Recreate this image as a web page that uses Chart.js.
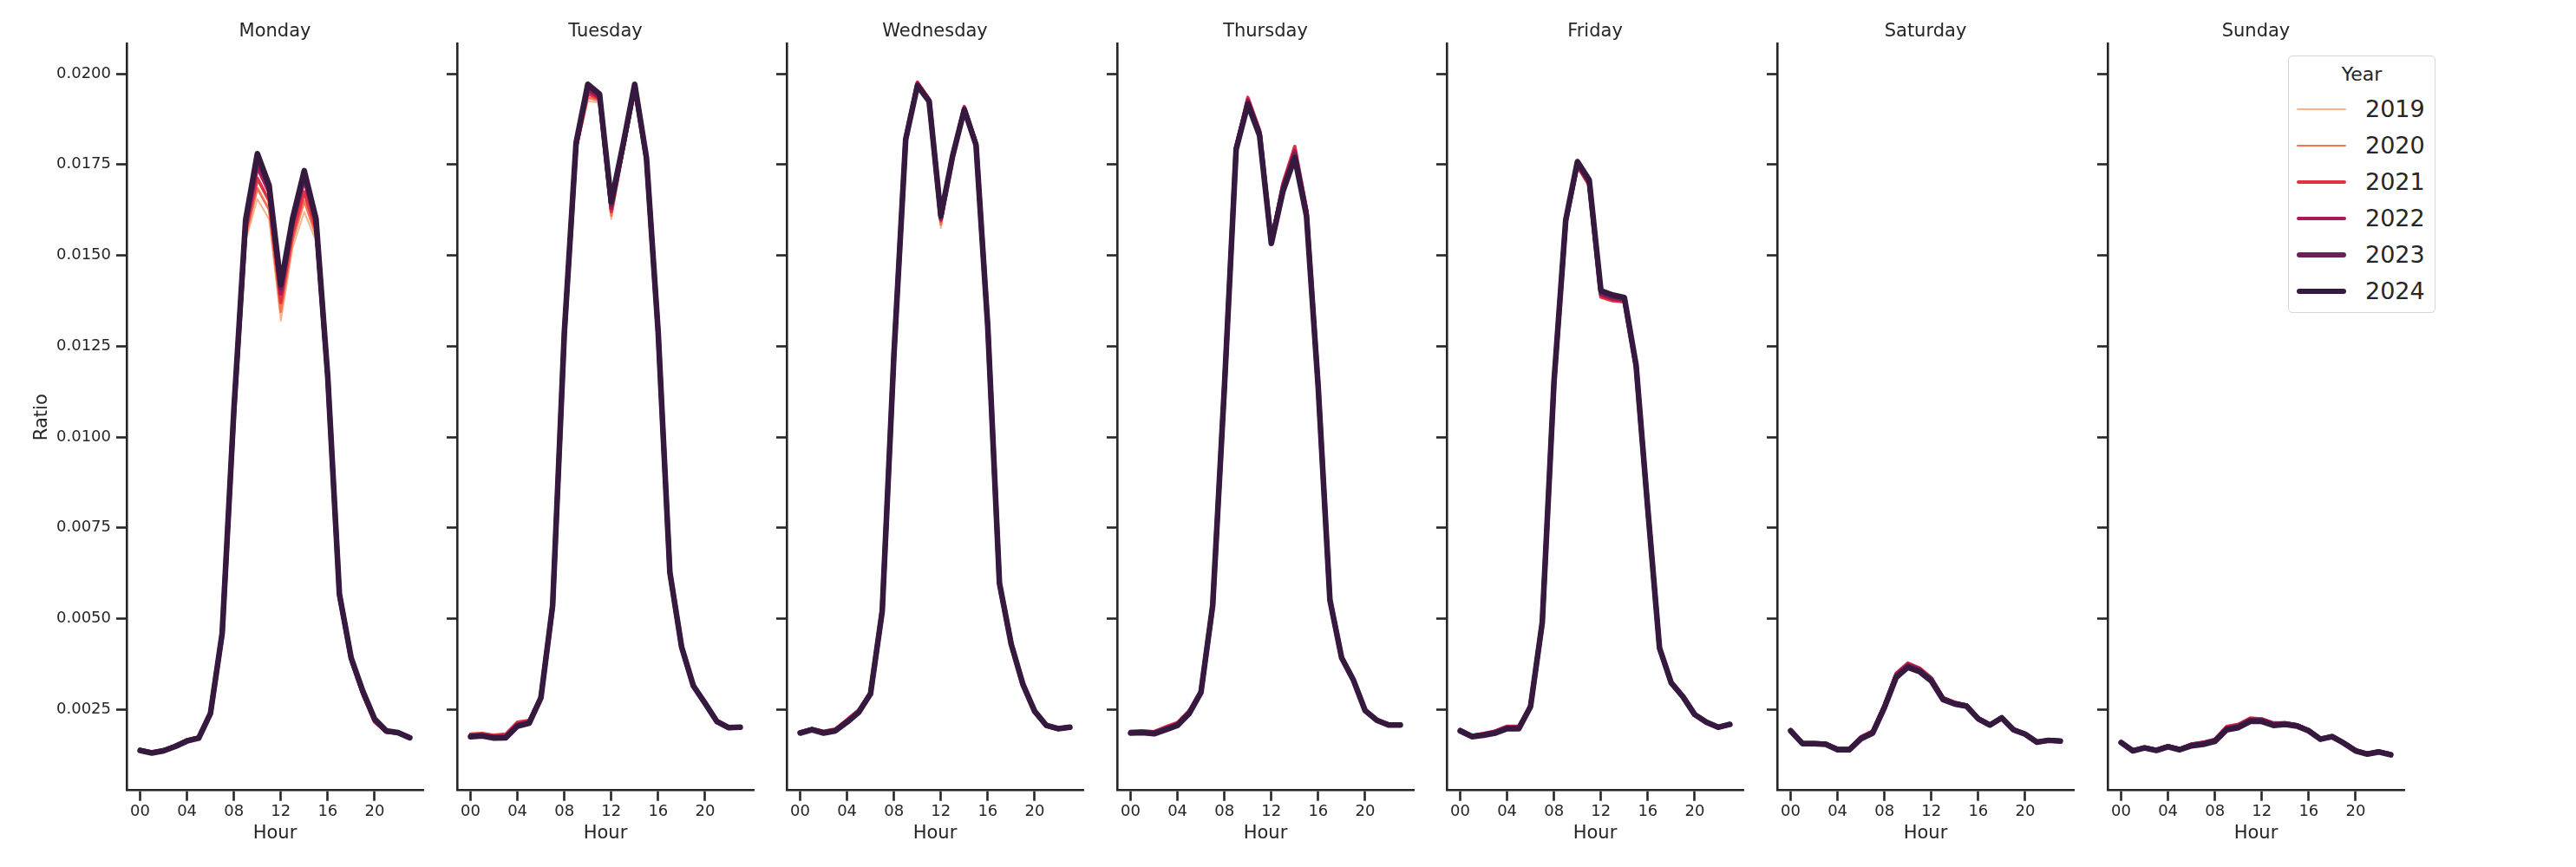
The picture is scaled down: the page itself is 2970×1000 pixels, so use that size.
<!DOCTYPE html>
<html>
<head>
<meta charset="utf-8">
<title>Ratio by hour and weekday</title>
<script src="https://cdn.jsdelivr.net/npm/chart.js@4.4.1/dist/chart.umd.min.js"></script>
<style>
    html, body { margin: 0; padding: 0; background: #fff; }
    body { width: 2970px; height: 1000px; position: relative; overflow: hidden; font-family: "DejaVu Sans", sans-serif; color: #262626; }
    canvas { position: absolute; top: 0; }
    #legend { position: absolute; left: 2638px; top: 64px; width: 168px; height: 295px; border: 1.5px solid #d6d6d6; border-radius: 5px; background: rgba(255,255,255,0.8); }
    #legend .title { position: absolute; left: 0; right: 0; top: 8px; text-align: center; font-size: 22px; line-height: 26px; }
    #legend .row { position: absolute; left: 0; width: 168px; height: 34px; }
    #legend .swatch { position: absolute; left: 9px; width: 57px; border-radius: 4px; }
    #legend .label { position: absolute; left: 88px; top: 0; font-size: 27px; line-height: 34px; }
</style>
</head>
<body>
<div id="legend"></div>
<script>
// 数据：每小时占比
const days = ['Monday', 'Tuesday', 'Wednesday', 'Thursday', 'Friday', 'Saturday', 'Sunday'];
const years = ['2019', '2020', '2021', '2022', '2023', '2024'];
const hours = [0, 1, 2, 3, 4, 5, 6, 7, 8, 9, 10, 11, 12, 13, 14, 15, 16, 17, 18, 19, 20, 21, 22, 23];
const xTicks = [0, 4, 8, 12, 16, 20];
const xTickLabels = ['00', '04', '08', '12', '16', '20'];
const yTicks = [0.0025, 0.0050, 0.0075, 0.0100, 0.0125, 0.0150, 0.0175, 0.0200];

const yearColors = ['#f6b48f', '#f37651', '#e13342', '#ad1759', '#701f57', '#35193e'];
const yearWidths = [2, 2.9, 3.8, 4.7, 5.6, 6.5];

// Monday
const mon2019 = [0.00141,0.00134,0.00139,0.00152,0.00168,0.00176,0.00244,0.00452,0.01045,0.01540,0.01655,0.01600,0.01320,0.01520,0.01620,0.01540,0.01140,0.00565,0.00389,0.00296,0.00221,0.00190,0.00187,0.00175];
const mon2020 = [0.00140,0.00133,0.00139,0.00151,0.00167,0.00175,0.00243,0.00454,0.01052,0.01552,0.01685,0.01625,0.01345,0.01540,0.01650,0.01555,0.01145,0.00562,0.00386,0.00293,0.00218,0.00189,0.00186,0.00175];
const mon2021 = [0.00139,0.00132,0.00138,0.00150,0.00166,0.00174,0.00242,0.00455,0.01058,0.01565,0.01712,0.01650,0.01370,0.01560,0.01675,0.01570,0.01152,0.00560,0.00384,0.00290,0.00215,0.00187,0.00185,0.00174];
const mon2022 = [0.00139,0.00132,0.00137,0.00150,0.00165,0.00173,0.00241,0.00456,0.01065,0.01580,0.01745,0.01675,0.01395,0.01585,0.01710,0.01588,0.01160,0.00563,0.00388,0.00295,0.00219,0.00189,0.00185,0.00173];
const mon2023 = [0.00138,0.00131,0.00137,0.00149,0.00164,0.00172,0.00240,0.00458,0.01070,0.01590,0.01765,0.01685,0.01410,0.01595,0.01722,0.01595,0.01165,0.00566,0.00390,0.00298,0.00222,0.00190,0.00186,0.00173];
const mon2024 = [0.00137,0.00130,0.00136,0.00148,0.00163,0.00171,0.00239,0.00460,0.01076,0.01598,0.01780,0.01693,0.01419,0.01601,0.01733,0.01601,0.01168,0.00567,0.00392,0.00300,0.00224,0.00191,0.00186,0.00172];

// Tuesday
const tue2019 = [0.00179,0.00181,0.00176,0.00179,0.00210,0.00217,0.00283,0.00534,0.01278,0.01785,0.01925,0.01920,0.01600,0.01780,0.01948,0.01752,0.01282,0.00627,0.00422,0.00315,0.00267,0.00217,0.00199,0.00201];
const tue2020 = [0.00180,0.00182,0.00177,0.00180,0.00212,0.00218,0.00284,0.00533,0.01280,0.01790,0.01935,0.01925,0.01610,0.01785,0.01952,0.01755,0.01283,0.00626,0.00421,0.00314,0.00266,0.00216,0.00198,0.00200];
const tue2021 = [0.00182,0.00184,0.00179,0.00182,0.00215,0.00220,0.00285,0.00532,0.01282,0.01795,0.01945,0.01930,0.01620,0.01790,0.01957,0.01758,0.01284,0.00625,0.00420,0.00313,0.00265,0.00215,0.00197,0.00199];
const tue2022 = [0.00178,0.00180,0.00175,0.00177,0.00209,0.00216,0.00284,0.00534,0.01285,0.01800,0.01955,0.01935,0.01630,0.01795,0.01962,0.01762,0.01286,0.00626,0.00421,0.00314,0.00266,0.00216,0.00199,0.00200];
const tue2023 = [0.00176,0.00178,0.00173,0.00174,0.00206,0.00214,0.00283,0.00535,0.01287,0.01806,0.01965,0.01940,0.01640,0.01800,0.01968,0.01766,0.01288,0.00627,0.00422,0.00315,0.00267,0.00217,0.00200,0.00201];
const tue2024 = [0.00175,0.00177,0.00171,0.00172,0.00204,0.00212,0.00282,0.00536,0.01289,0.01810,0.01971,0.01944,0.01647,0.01804,0.01971,0.01769,0.01289,0.00627,0.00422,0.00315,0.00267,0.00217,0.00200,0.00201];

// Wednesday
const wed2019 = [0.00186,0.00195,0.00188,0.00194,0.00218,0.00245,0.00294,0.00521,0.01224,0.01818,0.01972,0.01922,0.01575,0.01768,0.01903,0.01806,0.01305,0.00598,0.00431,0.00320,0.00246,0.00207,0.00198,0.00202];
const wed2020 = [0.00187,0.00196,0.00189,0.00195,0.00220,0.00247,0.00295,0.00520,0.01225,0.01820,0.01975,0.01927,0.01585,0.01772,0.01907,0.01809,0.01304,0.00597,0.00430,0.00319,0.00245,0.00206,0.00197,0.00201];
const wed2021 = [0.00188,0.00197,0.00190,0.00196,0.00222,0.00249,0.00296,0.00519,0.01226,0.01822,0.01977,0.01930,0.01595,0.01775,0.01910,0.01811,0.01303,0.00596,0.00429,0.00318,0.00244,0.00205,0.00196,0.00200];
const wed2022 = [0.00187,0.00196,0.00188,0.00194,0.00219,0.00246,0.00295,0.00520,0.01227,0.01821,0.01973,0.01928,0.01600,0.01774,0.01906,0.01808,0.01304,0.00596,0.00429,0.00318,0.00244,0.00205,0.00196,0.00200];
const wed2023 = [0.00186,0.00195,0.00186,0.00192,0.00217,0.00244,0.00294,0.00521,0.01228,0.01820,0.01970,0.01926,0.01605,0.01773,0.01903,0.01806,0.01305,0.00597,0.00430,0.00319,0.00245,0.00206,0.00197,0.00201];
const wed2024 = [0.00185,0.00194,0.00185,0.00191,0.00215,0.00242,0.00293,0.00521,0.01228,0.01819,0.01967,0.01924,0.01609,0.01773,0.01901,0.01804,0.01305,0.00597,0.00430,0.00319,0.00245,0.00206,0.00197,0.00201];

// Thursday
const thu2019 = [0.00188,0.00189,0.00187,0.00199,0.00211,0.00244,0.00298,0.00535,0.01133,0.01794,0.01925,0.01836,0.01532,0.01688,0.01785,0.01620,0.01138,0.00551,0.00392,0.00331,0.00247,0.00220,0.00208,0.00208];
const thu2020 = [0.00189,0.00190,0.00188,0.00200,0.00212,0.00245,0.00299,0.00534,0.01134,0.01797,0.01930,0.01840,0.01536,0.01694,0.01792,0.01625,0.01139,0.00550,0.00391,0.00330,0.00246,0.00221,0.00209,0.00209];
const thu2021 = [0.00190,0.00191,0.00189,0.00202,0.00214,0.00247,0.00300,0.00533,0.01135,0.01800,0.01935,0.01845,0.01540,0.01700,0.01800,0.01630,0.01140,0.00549,0.00390,0.00329,0.00245,0.00222,0.00210,0.00210];
const thu2022 = [0.00188,0.00189,0.00187,0.00199,0.00211,0.00244,0.00299,0.00534,0.01136,0.01798,0.01928,0.01840,0.01538,0.01692,0.01788,0.01622,0.01139,0.00550,0.00391,0.00330,0.00246,0.00221,0.00209,0.00209];
const thu2023 = [0.00186,0.00187,0.00185,0.00196,0.00208,0.00241,0.00298,0.00535,0.01137,0.01795,0.01922,0.01835,0.01535,0.01685,0.01778,0.01615,0.01138,0.00551,0.00392,0.00331,0.00247,0.00220,0.00208,0.00208];
const thu2024 = [0.00185,0.00186,0.00183,0.00194,0.00206,0.00239,0.00297,0.00536,0.01137,0.01792,0.01916,0.01830,0.01533,0.01677,0.01769,0.01609,0.01137,0.00551,0.00392,0.00331,0.00247,0.00220,0.00207,0.00207];

// Friday
const fri2019 = [0.00193,0.00177,0.00182,0.00189,0.00201,0.00201,0.00259,0.00489,0.01148,0.01598,0.01765,0.01700,0.01390,0.01383,0.01378,0.01196,0.00801,0.00419,0.00323,0.00285,0.00236,0.00215,0.00201,0.00209];
const fri2020 = [0.00194,0.00178,0.00183,0.00190,0.00202,0.00202,0.00260,0.00488,0.01146,0.01593,0.01752,0.01695,0.01388,0.01378,0.01374,0.01193,0.00800,0.00418,0.00322,0.00284,0.00235,0.00214,0.00200,0.00208];
const fri2021 = [0.00195,0.00179,0.00184,0.00191,0.00204,0.00204,0.00261,0.00487,0.01145,0.01590,0.01745,0.01693,0.01385,0.01375,0.01372,0.01192,0.00799,0.00418,0.00322,0.00284,0.00235,0.00214,0.00200,0.00208];
const fri2022 = [0.00193,0.00177,0.00182,0.00189,0.00201,0.00201,0.00260,0.00488,0.01148,0.01592,0.01750,0.01698,0.01392,0.01381,0.01376,0.01194,0.00800,0.00418,0.00322,0.00284,0.00235,0.00214,0.00200,0.00208];
const fri2023 = [0.00192,0.00176,0.00181,0.00187,0.00199,0.00199,0.00259,0.00489,0.01150,0.01595,0.01755,0.01703,0.01398,0.01386,0.01380,0.01196,0.00801,0.00419,0.00323,0.00285,0.00236,0.00215,0.00201,0.00209];
const fri2024 = [0.00191,0.00175,0.00179,0.00185,0.00197,0.00197,0.00258,0.00490,0.01152,0.01597,0.01758,0.01708,0.01403,0.01391,0.01384,0.01198,0.00802,0.00419,0.00323,0.00285,0.00236,0.00215,0.00201,0.00209];

// Saturday
const sat2019 = [0.00192,0.00157,0.00157,0.00155,0.00141,0.00141,0.00173,0.00189,0.00261,0.00347,0.00377,0.00363,0.00336,0.00282,0.00268,0.00261,0.00226,0.00208,0.00228,0.00195,0.00183,0.00161,0.00166,0.00164];
const sat2020 = [0.00192,0.00157,0.00157,0.00155,0.00141,0.00141,0.00174,0.00190,0.00262,0.00348,0.00376,0.00362,0.00335,0.00282,0.00269,0.00261,0.00226,0.00208,0.00228,0.00195,0.00183,0.00161,0.00166,0.00164];
const sat2021 = [0.00193,0.00158,0.00158,0.00156,0.00142,0.00142,0.00175,0.00191,0.00264,0.00350,0.00378,0.00364,0.00337,0.00283,0.00270,0.00262,0.00227,0.00208,0.00228,0.00195,0.00183,0.00161,0.00166,0.00164];
const sat2022 = [0.00193,0.00157,0.00157,0.00155,0.00141,0.00141,0.00173,0.00189,0.00261,0.00346,0.00374,0.00361,0.00334,0.00281,0.00268,0.00261,0.00226,0.00208,0.00228,0.00195,0.00183,0.00161,0.00166,0.00164];
const sat2023 = [0.00192,0.00157,0.00157,0.00155,0.00140,0.00140,0.00171,0.00187,0.00258,0.00342,0.00370,0.00358,0.00331,0.00279,0.00267,0.00260,0.00225,0.00207,0.00227,0.00194,0.00182,0.00160,0.00165,0.00163];
const sat2024 = [0.00191,0.00156,0.00156,0.00154,0.00139,0.00139,0.00169,0.00185,0.00255,0.00338,0.00366,0.00354,0.00328,0.00277,0.00265,0.00259,0.00224,0.00207,0.00227,0.00194,0.00182,0.00160,0.00165,0.00163];

// Sunday
const sun2019 = [0.00160,0.00138,0.00146,0.00140,0.00150,0.00142,0.00154,0.00159,0.00167,0.00202,0.00208,0.00228,0.00226,0.00214,0.00213,0.00208,0.00194,0.00170,0.00177,0.00159,0.00138,0.00129,0.00135,0.00128];
const sun2020 = [0.00160,0.00138,0.00146,0.00140,0.00150,0.00142,0.00154,0.00159,0.00167,0.00202,0.00208,0.00227,0.00225,0.00213,0.00213,0.00208,0.00194,0.00170,0.00177,0.00159,0.00138,0.00129,0.00135,0.00128];
const sun2021 = [0.00160,0.00138,0.00146,0.00140,0.00150,0.00142,0.00155,0.00160,0.00168,0.00203,0.00209,0.00226,0.00224,0.00213,0.00213,0.00208,0.00194,0.00170,0.00177,0.00159,0.00138,0.00129,0.00135,0.00128];
const sun2022 = [0.00160,0.00137,0.00145,0.00139,0.00149,0.00141,0.00153,0.00158,0.00166,0.00200,0.00206,0.00223,0.00222,0.00211,0.00212,0.00207,0.00193,0.00169,0.00176,0.00158,0.00137,0.00128,0.00134,0.00127];
const sun2023 = [0.00159,0.00137,0.00145,0.00138,0.00148,0.00140,0.00152,0.00156,0.00164,0.00197,0.00203,0.00220,0.00220,0.00209,0.00211,0.00206,0.00192,0.00169,0.00176,0.00158,0.00137,0.00128,0.00134,0.00126];
const sun2024 = [0.00159,0.00136,0.00144,0.00137,0.00147,0.00139,0.00150,0.00154,0.00162,0.00194,0.00200,0.00217,0.00217,0.00206,0.00209,0.00204,0.00191,0.00168,0.00175,0.00157,0.00136,0.00127,0.00133,0.00125];

const daySeries = [
    [mon2019, mon2020, mon2021, mon2022, mon2023, mon2024],
    [tue2019, tue2020, tue2021, tue2022, tue2023, tue2024],
    [wed2019, wed2020, wed2021, wed2022, wed2023, wed2024],
    [thu2019, thu2020, thu2021, thu2022, thu2023, thu2024],
    [fri2019, fri2020, fri2021, fri2022, fri2023, fri2024],
    [sat2019, sat2020, sat2021, sat2022, sat2023, sat2024],
    [sun2019, sun2020, sun2021, sun2022, sun2023, sun2024]
];

// 布局
const INK = '#262626';
const PANEL_W = 342;
const Y_AXIS_W = 120;
const RIGHT_PAD = 8;
const PLOT_TOP = 50.7;
const PLOT_BOTTOM = 911.7;
const CANVAS_H = 1000;
const panelLefts = [146, 526.6, 907.2, 1287.8, 1668.4, 2049, 2429.6];

Chart.defaults.font.family = '"DejaVu Sans", sans-serif';
Chart.defaults.color = INK;

function buildPanel(dayIndex) {
    const canvas = document.createElement('canvas');
    const w = Y_AXIS_W + PANEL_W + RIGHT_PAD;
    canvas.width = w;
    canvas.height = CANVAS_H;
    canvas.style.width = w + 'px';
    canvas.style.height = CANVAS_H + 'px';
    canvas.style.left = (panelLefts[dayIndex] - Y_AXIS_W) + 'px';
    document.body.appendChild(canvas);

    const first = dayIndex === 0;
    const datasets = years.map((year, k) => ({
        label: year,
        data: hours.map((h, i) => ({ x: h, y: daySeries[dayIndex][k][i] })),
        borderColor: yearColors[k],
        backgroundColor: yearColors[k],
        borderWidth: yearWidths[k],
        borderJoinStyle: 'round',
        borderCapStyle: 'round',
        pointRadius: 0,
        tension: 0,
        fill: false,
        order: years.length - k
    }));

    return new Chart(canvas, {
        type: 'line',
        data: { datasets },
        options: {
            responsive: false,
            animation: false,
            events: [],
            layout: { padding: { left: 0, right: RIGHT_PAD, top: 0, bottom: 0 } },
            plugins: {
                legend: { display: false },
                tooltip: { enabled: false },
                title: {
                    display: true,
                    text: days[dayIndex],
                    fullSize: false,
                    color: INK,
                    font: { size: 21, weight: 'normal', lineHeight: 1.2 },
                    padding: { top: 24, bottom: PLOT_TOP - 24 - 25.2 }
                }
            },
            scales: {
                x: {
                    type: 'linear',
                    min: -1.15,
                    max: 24.15,
                    afterBuildTicks: scale => { scale.ticks = xTicks.map(v => ({ value: v })); },
                    afterFit: scale => { scale.height = CANVAS_H - PLOT_BOTTOM; },
                    ticks: {
                        autoSkip: false,
                        maxRotation: 0,
                        padding: 2,
                        color: INK,
                        font: { size: 18, lineHeight: 1.2 },
                        callback: v => xTickLabels[xTicks.indexOf(v)]
                    },
                    grid: { drawOnChartArea: false, drawTicks: true, tickLength: 12, tickWidth: 2.6, tickColor: INK, color: INK },
                    border: { display: true, color: INK, width: 2.6 },
                    title: {
                        display: true,
                        text: 'Hour',
                        color: INK,
                        font: { size: 21, lineHeight: 1.2 },
                        padding: { top: 0, bottom: 25.4 }
                    }
                },
                y: {
                    type: 'linear',
                    min: 0.00027,
                    max: 0.02082,
                    afterBuildTicks: scale => { scale.ticks = yTicks.map(v => ({ value: v })); },
                    afterFit: scale => { scale.width = Y_AXIS_W; },
                    ticks: {
                        display: first,
                        padding: 6,
                        color: INK,
                        font: { size: 18, lineHeight: 1.2 },
                        callback: v => v.toFixed(4)
                    },
                    grid: { drawOnChartArea: false, drawTicks: true, tickLength: 12, tickWidth: 2.6, tickColor: INK, color: INK },
                    border: { display: true, color: INK, width: 2.6 },
                    title: {
                        display: first,
                        text: 'Ratio',
                        color: INK,
                        font: { size: 21, lineHeight: 1.2 },
                        padding: { top: 9.5, bottom: 0 }
                    }
                }
            }
        }
    });
}

days.forEach((d, i) => buildPanel(i));

// 图例
function buildLegend() {
    const box = document.getElementById('legend');
    const title = document.createElement('div');
    title.className = 'title';
    title.textContent = 'Year';
    box.appendChild(title);
    years.forEach((year, k) => {
        const row = document.createElement('div');
        row.className = 'row';
        row.style.top = (44 + k * 42) + 'px';
        const sw = document.createElement('div');
        sw.className = 'swatch';
        sw.style.background = yearColors[k];
        sw.style.height = yearWidths[k] + 'px';
        sw.style.top = (17 - yearWidths[k] / 2) + 'px';
        const lab = document.createElement('div');
        lab.className = 'label';
        lab.textContent = year;
        row.appendChild(sw);
        row.appendChild(lab);
        box.appendChild(row);
    });
}

buildLegend();
</script>
</body>
</html>
